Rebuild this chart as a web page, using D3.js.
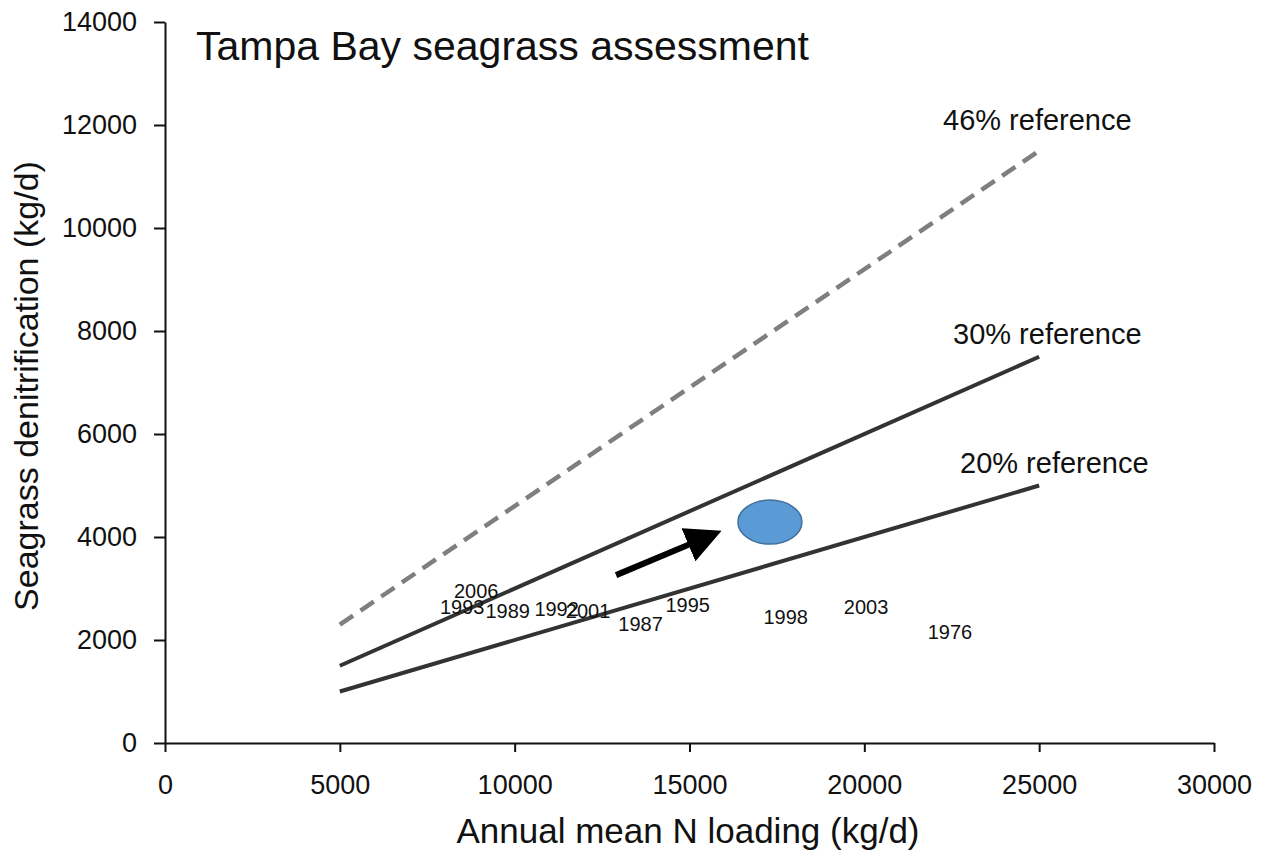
<!DOCTYPE html>
<meta charset="utf-8">
<style>
body{margin:0;background:#fff;}
svg text{font-family:"Liberation Sans",Arial,sans-serif;fill:#111;}
.axis path,.axis line{stroke:#111;stroke-width:2px;}
.axis text{font-size:27px;}
.year{font-size:20px;text-anchor:middle;}
.reflab{font-size:29px;}
</style>
<body>
<script src="https://cdn.jsdelivr.net/npm/d3@7"></script>
<script>
var xTicks=[0,5000,10000,15000,20000,25000,30000];
var yTicks=[0,2000,4000,6000,8000,10000,12000,14000];

var refNames=["20% reference","30% reference","46% reference"];
var refX=[5000,25000];
var refY20=[1000,5000];
var refY30=[1500,7500];
var refY46=[2300,11500];

var years=["2006","1993","1989","1992","2001","1987","1995","1998","2003","1976"];
var yearX=[8900,8500,9800,11200,12100,13600,14950,17750,20050,22450];
var yearY=[2950,2650,2560,2600,2560,2310,2680,2450,2640,2160];

var blobX=17300, blobY=4290;
var arrowFrom=[12900,3260], arrowTo=[15950,4130];

var W=1272,H=855;
var svg=d3.select("body").append("svg").attr("width",W).attr("height",H);

var x=d3.scaleLinear().domain([0,30000]).range([165,1214]);
var y=d3.scaleLinear().domain([0,14000]).range([743,22]);

svg.append("g").attr("class","axis").attr("transform","translate(0,743)")
    .call(d3.axisBottom(x).tickValues(xTicks).tickSize(9).tickSizeOuter(0).tickPadding(23).tickFormat(d3.format("d")));
svg.append("g").attr("class","axis").attr("transform","translate(165,0)")
    .call(d3.axisLeft(y).tickValues(yTicks).tickSize(11).tickSizeOuter(0).tickPadding(17).tickFormat(d3.format("d")));

var line=d3.line().x(function(d){return x(d[0]);}).y(function(d){return y(d[1]);});
function pts(ys){return refX.map(function(v,i){return [v,ys[i]];});}

// reference lines
svg.append("path").attr("d",line(pts(refY46))).attr("fill","none")
    .attr("stroke","#7f7f7f").attr("stroke-width",4.5).attr("stroke-dasharray","16,9");
svg.append("path").attr("d",line(pts(refY30))).attr("fill","none")
    .attr("stroke","#333").attr("stroke-width",4);
svg.append("path").attr("d",line(pts(refY20))).attr("fill","none")
    .attr("stroke","#333").attr("stroke-width",4);

svg.append("text").attr("class","reflab").attr("x",943).attr("y",130).text(refNames[2]);
svg.append("text").attr("class","reflab").attr("x",953).attr("y",344).text(refNames[1]);
svg.append("text").attr("class","reflab").attr("x",960).attr("y",473).text(refNames[0]);

// year labels
svg.selectAll(".year").data(years).enter().append("text").attr("class","year")
    .attr("x",function(d,i){return x(yearX[i]);})
    .attr("y",function(d,i){return y(yearY[i]);})
    .attr("dy","0.35em").text(function(d){return d;});

svg.append("ellipse").attr("cx",x(blobX)).attr("cy",y(blobY)).attr("rx",32).attr("ry",22)
    .attr("fill","#5b9bd5").attr("stroke","#41719c").attr("stroke-width",1.5);

svg.append("defs").append("marker").attr("id","ah").attr("viewBox","0 0 10 10")
    .attr("refX",2).attr("refY",5).attr("markerWidth",6).attr("markerHeight",6)
    .attr("markerUnits","strokeWidth").attr("orient","auto")
    .append("path").attr("d","M0,0L10,5L0,10z").attr("fill","#000");
var x1=x(arrowFrom[0]),y1=y(arrowFrom[1]),x2=x(arrowTo[0]),y2=y(arrowTo[1]);
var ang=Math.atan2(y2-y1,x2-x1);
svg.append("line").attr("x1",x1).attr("y1",y1)
    .attr("x2",x2-Math.cos(ang)*30).attr("y2",y2-Math.sin(ang)*30)
    .attr("stroke","#000").attr("stroke-width",6).attr("marker-end","url(#ah)");

svg.append("text").attr("x",196).attr("y",60).style("font-size","41px").text("Tampa Bay seagrass assessment");
svg.append("text").attr("x",688).attr("y",843).attr("text-anchor","middle").style("font-size","35px").text("Annual mean N loading (kg/d)");
svg.append("text").attr("transform","translate(38,386) rotate(-90)").attr("text-anchor","middle").style("font-size","34px").text("Seagrass denitrification (kg/d)");
</script>
